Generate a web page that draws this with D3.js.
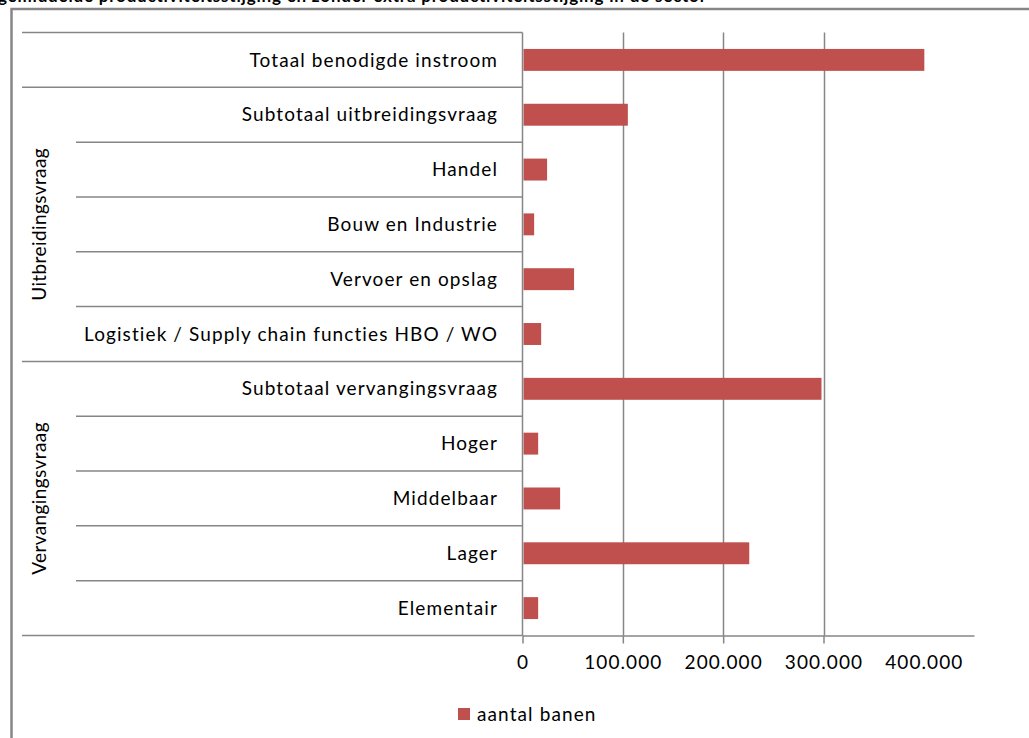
<!DOCTYPE html>
<html>
<head>
<meta charset="utf-8">
<script src="https://cdn.jsdelivr.net/npm/d3@7"></script>
<style>
  body { margin: 0; background: #fff; }
  svg { display: block; }
</style>
</head>
<body>
<svg id="chart"></svg>
<script>
const width = 1029;
const height = 738;

// data
const categories = [
    "Totaal benodigde instroom",
    "Subtotaal uitbreidingsvraag",
    "Handel",
    "Bouw en Industrie",
    "Vervoer en opslag",
    "Logistiek / Supply chain functies HBO / WO",
    "Subtotaal vervangingsvraag",
    "Hoger",
    "Middelbaar",
    "Lager",
    "Elementair"
];
const values = [400500, 105000, 24500, 11600, 51400, 18600, 298000, 15600, 37500, 226000, 15600];
const groupNames = ["", "Uitbreidingsvraag", "Vervangingsvraag"];
const groupSizes = [1, 5, 5];
const tickValues = [0, 100000, 200000, 300000, 400000];
const gridValues = [100000, 200000, 300000];
const seriesName = "aantal banen";
const titleText = "gemiddelde productiviteitsstijging en zonder extra productiviteitsstijging in de sector";

const font = "Lato, 'Open Sans', sans-serif";
const lineColor = "#868686";
const barColor = "#C0504D";
const spacing = "1.1px";

const nl = d3.formatLocale({decimal: ",", thousands: ".", grouping: [3], currency: ["€", ""]});
const fmt = nl.format(",.0f");

const svg = d3.select("#chart")
    .attr("width", width)
    .attr("height", height)
    .style("font-family", font);

// caption above the chart, mostly cut off by the page edge
svg.append("text")
    .attr("x", -2)
    .attr("y", 2)
    .attr("font-size", 17)
    .attr("font-weight", "bold")
    .attr("fill", "#000")
    .style("letter-spacing", "0.8px")
    .text(titleText);

// chart area border
svg.append("path")
    .attr("d", "M11.5,738V9H1029")
    .attr("fill", "none")
    .attr("stroke", lineColor)
    .attr("stroke-width", 2.5);

const x = d3.scaleLinear()
    .domain([0, 450000])
    .range([522.5, 974]);

const y = d3.scaleBand()
    .domain(categories)
    .range([32.5, 635.5])
    .paddingInner(0.6)
    .paddingOuter(0.3);

const step = y.step();
const halfGap = step * y.paddingInner() / 2;

// vertical gridlines
svg.append("g")
    .selectAll("line")
    .data(gridValues)
    .join("line")
    .attr("x1", d => Math.round(x(d)) + 0.5)
    .attr("x2", d => Math.round(x(d)) + 0.5)
    .attr("y1", 32.5)
    .attr("y2", 635.5)
    .attr("stroke", lineColor)
    .attr("stroke-width", 1.5);

// bars
svg.append("g")
    .selectAll("rect")
    .data(values)
    .join("rect")
    .attr("x", x(0) + 1)
    .attr("y", (d, i) => y(categories[i]))
    .attr("width", d => x(d) - x(0) - 1)
    .attr("height", y.bandwidth())
    .attr("fill", barColor);

// x axis
const xAxis = svg.append("g")
    .attr("transform", "translate(0,635.5)")
    .call(d3.axisBottom(x)
        .tickValues(tickValues)
        .tickFormat(fmt)
        .tickSize(8)
        .tickSizeOuter(0)
        .tickPadding(12));

xAxis.select(".domain").attr("stroke", lineColor).attr("stroke-width", 1.5);
xAxis.selectAll(".tick line")
    .attr("stroke", lineColor)
    .attr("stroke-width", 1.5)
    .filter(d => d === 400000).remove();
xAxis.selectAll(".tick text")
    .attr("font-size", 19)
    .attr("fill", "#000")
    .style("font-family", font)
    .style("letter-spacing", spacing);

// category axis line
svg.append("line")
    .attr("x1", x(0))
    .attr("x2", x(0))
    .attr("y1", 32.5)
    .attr("y2", 635.5)
    .attr("stroke", lineColor)
    .attr("stroke-width", 1.5);

// row separators: long ones on group boundaries, short ones inside groups
const groupStarts = [];
let acc = 0;
groupSizes.forEach(s => { groupStarts.push(acc); acc += s; });

const boundaries = d3.range(categories.length + 1).map(i => ({
    y: i < categories.length ? y(categories[i]) - halfGap : y(categories[i - 1]) + y.bandwidth() + halfGap,
    long: i === categories.length || groupStarts.includes(i)
}));

svg.append("g")
    .selectAll("line")
    .data(boundaries)
    .join("line")
    .attr("x1", d => d.long ? 22 : 76)
    .attr("x2", x(0))
    .attr("y1", d => d.y)
    .attr("y2", d => d.y)
    .attr("stroke", lineColor)
    .attr("stroke-width", 1.5);

// category labels
svg.append("g")
    .selectAll("text")
    .data(categories)
    .join("text")
    .attr("x", 498)
    .attr("y", d => y(d) + y.bandwidth() / 2)
    .attr("dy", "0.35em")
    .attr("text-anchor", "end")
    .attr("font-size", 19)
    .attr("fill", "#000")
    .style("letter-spacing", spacing)
    .text(d => d);

// group labels (rotated)
svg.append("g")
    .selectAll("text")
    .data(groupNames.map((name, i) => ({name, start: groupStarts[i], size: groupSizes[i]})).filter(d => d.name))
    .join("text")
    .attr("transform", d => {
        const top = y(categories[d.start]) - halfGap;
        const bottom = y(categories[d.start + d.size - 1]) + y.bandwidth() + halfGap;
        return `translate(46,${(top + bottom) / 2}) rotate(-90)`;
    })
    .attr("text-anchor", "middle")
    .attr("font-size", 19)
    .attr("fill", "#000")
    .style("letter-spacing", "0.4px")
    .text(d => d.name);

// legend
const legend = svg.append("g").attr("transform", "translate(458,708)");
legend.append("rect")
    .attr("width", 12)
    .attr("height", 12)
    .attr("fill", barColor);
legend.append("text")
    .attr("x", 19)
    .attr("y", 6)
    .attr("dy", "0.35em")
    .attr("font-size", 19)
    .attr("fill", "#000")
    .style("letter-spacing", spacing)
    .text(seriesName);
</script>
</body>
</html>
